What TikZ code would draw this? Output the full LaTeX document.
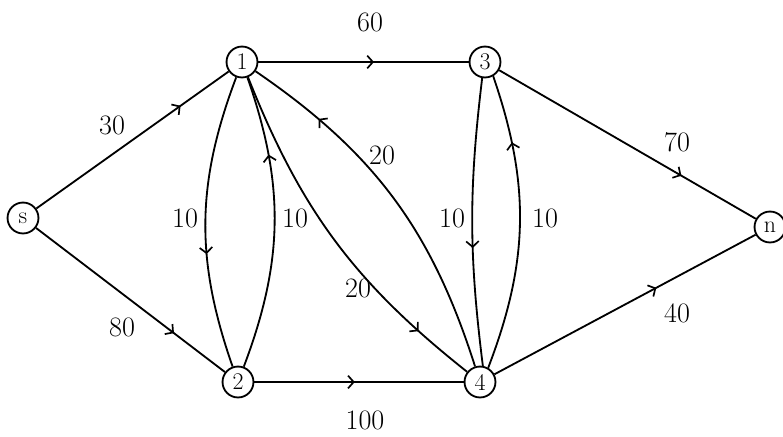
\documentclass[tikz,border=0pt]{standalone}
\usepackage{tikz}
\usetikzlibrary{arrows.meta,decorations.markings}

\begin{document}
\begin{tikzpicture}[x=0.025cm, y=-0.025cm,
      vertex/.style={circle, draw, line width=1.3pt, minimum size=22pt, inner sep=0pt,
                     font=\fontsize{17}{19}\selectfont},
      wlabel/.style={font=\fontsize{20}{24}\selectfont, inner sep=1pt},
      flow/.style={line width=1.3pt, postaction={decorate},
                   decoration={markings, mark=at position #1 with
                     {\arrow{Straight Barb[length=4pt, width=9pt, line width=1.2pt]}}}},
      flow/.default=0.5
    ]
    \useasboundingbox (0,0) rectangle (783,436);
    % vertices
    \node[vertex] (s)  at ( 23,218) {s};
    \node[vertex] (v1) at (242, 62) {1};
    \node[vertex] (v3) at (485, 62) {3};
    \node[vertex] (v2) at (238,382) {2};
    \node[vertex] (v4) at (480,382) {4};
    \node[vertex] (t)  at (770,227) {n};
    % arcs
    \draw[flow=0.75] (s) -- (v1);
    \draw[flow=0.73] (s) -- (v2);
    \draw[flow=0.55] (v1) -- (v3);
    \draw[flow=0.48] (v2) -- (v4);
    \draw[flow=0.71] (v3) -- (t);
    \draw[flow=0.62] (v4) -- (t);
    \draw[flow=0.61] (v1) to[bend right=20] (v2);
    \draw[flow=0.73] (v2) to[bend right=20] (v1);
    \draw[flow=0.83] (v1) to[bend right=15] (v4);
    \draw[flow=0.79] (v4) to[bend right=19] (v1);
    \draw[flow=0.59] (v3.-100) to[bend right=7] (v4.80);
    \draw[flow=0.77] (v4.60) to[bend right=20] (v3.-60);
    % capacities
    \node[wlabel] (c1)  at (112,125) {30};
    \node[wlabel] (c2)  at (122,327) {80};
    \node[wlabel] (c3)  at (370, 22) {60};
    \node[wlabel] (c4)  at (365,420) {100};
    \node[wlabel] (c5)  at (677,142) {70};
    \node[wlabel] (c6)  at (677,313) {40};
    \node[wlabel] (c7)  at (185,218) {10};
    \node[wlabel] (c8)  at (295,218) {10};
    \node[wlabel] (c9)  at (382,155) {20};
    \node[wlabel] (c10) at (358,288) {20};
    \node[wlabel] (c11) at (452,218) {10};
    \node[wlabel] (c12) at (545,218) {10};
  \end{tikzpicture}
\end{document}
